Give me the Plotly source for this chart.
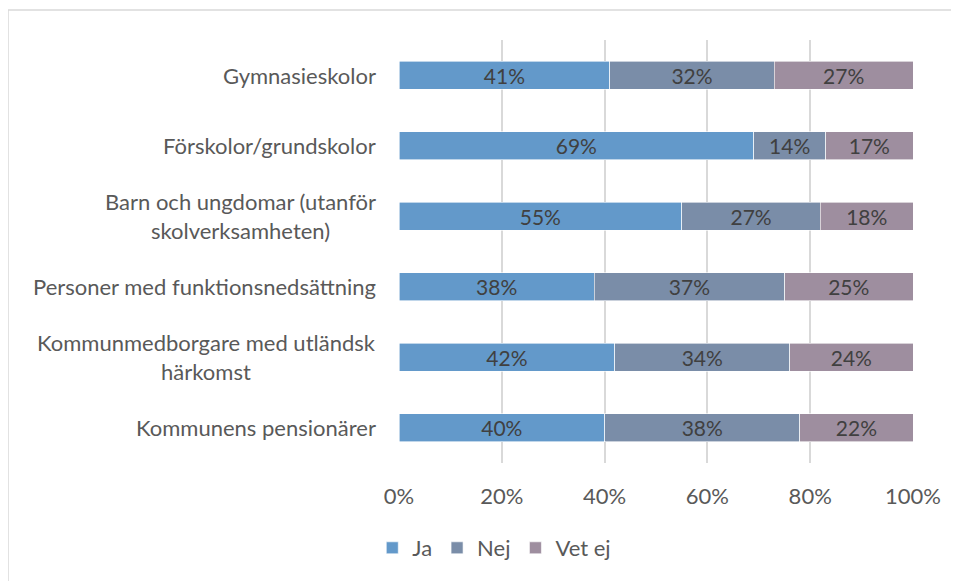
import plotly.graph_objects as go

categories = [
    "Gymnasieskolor",
    "Förskolor/grundskolor",
    "Barn och ungdomar (utanför<br>skolverksamheten)",
    "Personer med funktionsnedsättning",
    "Kommunmedborgare med utländsk<br>härkomst",
    "Kommunens pensionärer",
]
ja = [41, 69, 55, 38, 42, 40]
nej = [32, 14, 27, 37, 34, 38]
vet_ej = [27, 17, 18, 25, 24, 22]
series = [("Ja", ja, "#6399CA"), ("Nej", nej, "#7A8DA8"), ("Vet ej", vet_ej, "#9E8E9F")]
x_ticks = [0, 20, 40, 60, 80, 100]
x_ticklabels = ["0%", "20%", "40%", "60%", "80%", "100%"]

FONT = "Lato"
# page offset (body margin 8px)
OX, OY = 8, 8
W, H = 959 - OX, 581 - OY
PL, PR, PT, PB = 399 - OX, 913 - OX, 40 - OY, 463 - OY
PW, PH = PR - PL, PB - PT

fig = go.Figure()
for name, vals, col in series:
    fig.add_trace(go.Bar(
        y=list(range(len(categories))), x=vals, name=name, orientation="h",
        marker=dict(color=col, line=dict(color="white", width=0.6)),
        text=[f"{v}%" for v in vals], textposition="inside", insidetextanchor="middle",
        constraintext="none",
        textfont=dict(family=FONT, size=21, color="#404040"),
        hoverinfo="skip",
    ))

for i, c in enumerate(categories):
    fig.add_annotation(
        x=0, xref="paper", y=i, yref="y", text=c, showarrow=False,
        xanchor="right", yanchor="middle", align="center", xshift=-21,
        font=dict(family=FONT, size=22, color="#595959"),
    )

fig.add_shape(type="rect", xref="paper", yref="paper",
              x0=(8 - 399) / PW, x1=(975 - 399) / PW,
              y0=(463 - 600) / PH, y1=(463 - 10) / PH,
              line=dict(color="#D9D9D9", width=1.5), fillcolor="rgba(0,0,0,0)", layer="below")

fig.update_layout(
    width=W, height=H,
    margin=dict(l=PL, r=W - PR, t=PT, b=H - PB),
    barmode="stack", bargap=0.6,
    plot_bgcolor="white", paper_bgcolor="white",
    font=dict(family=FONT, size=21, color="#595959"),
    showlegend=True,
    legend=dict(orientation="h", x=-0.052, xanchor="left", y=(463 - 548) / PH, yanchor="middle",
                font=dict(family=FONT, size=22, color="#595959"), traceorder="normal",
                itemwidth=30),
)
fig.update_xaxes(range=[0, 100], tickvals=x_ticks, ticktext=x_ticklabels,
                 showgrid=True, gridcolor="#D9D9D9", gridwidth=1.5,
                 zeroline=False, showline=False, ticks="", ticklabelstandoff=18,
                 tickfont=dict(family=FONT, size=22, color="#595959"), fixedrange=True)
fig.update_yaxes(range=[5.5, -0.5], showticklabels=False, showgrid=False,
                 zeroline=False, showline=False, ticks="", fixedrange=True)

fig.write_html("out.html")
